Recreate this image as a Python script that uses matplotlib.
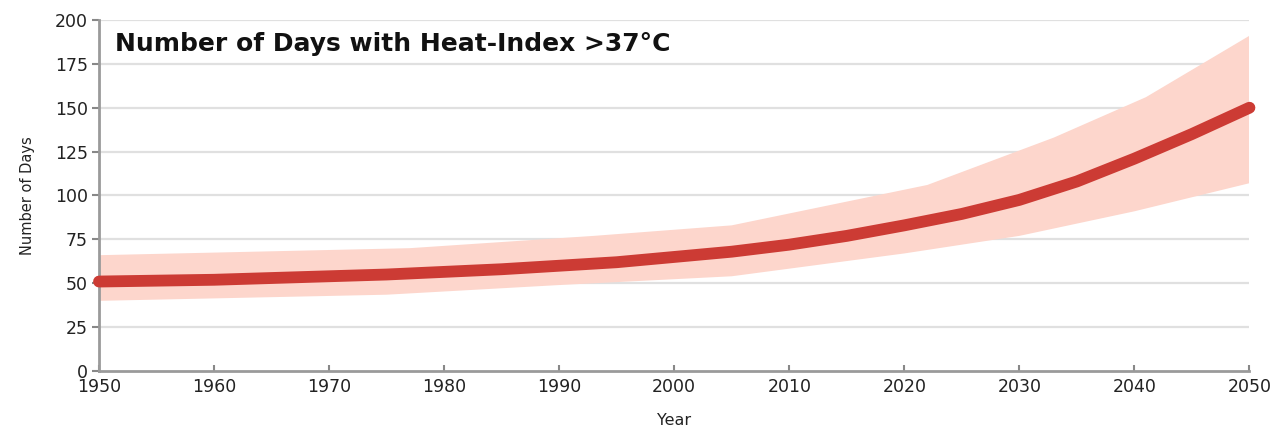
import matplotlib.pyplot as plt
import numpy as np

# central estimate, number of days per year
years = [1950, 1955, 1960, 1965, 1970, 1975, 1980, 1985, 1990, 1995, 2000,
         2005, 2010, 2015, 2020, 2025, 2030, 2035, 2040, 2045, 2050]
days = [51, 51.5, 52, 53, 54, 55, 56.5, 58, 60, 62, 65,
        68, 72, 77, 83, 89.5, 97.5, 108, 121, 135, 150]

# uncertainty range (upper and lower edges)
upper_years = [1950, 1977, 1993, 2005, 2022, 2033, 2041, 2050]
upper_days = [66, 70, 77, 83, 106, 133, 156, 191]
lower_years = [1950, 1975, 1990, 2005, 2020, 2030, 2040, 2050]
lower_days = [40, 43.5, 49, 54, 67, 77, 91, 107]

y_ticks = [0, 25, 50, 75, 100, 125, 150, 175, 200]
x_ticks = list(range(1950, 2051, 10))

fig = plt.figure(figsize=(12.79, 4.33), dpi=100)
ax = fig.add_axes([0.0774, 0.143, 0.8995, 0.811])

# shaded band
band_x = np.concatenate([upper_years, lower_years[::-1]])
band_y = np.concatenate([upper_days, lower_days[::-1]])
ax.fill(band_x, band_y, color='#fdd6cc', lw=0, zorder=2)

ax.plot(years, days, color='#cc3b34', lw=8.5, solid_capstyle='round',
        zorder=5, clip_on=False)

ax.set_xlim(1950, 2050)
ax.set_ylim(0, 200)
ax.set_xticks(x_ticks)
ax.set_yticks(y_ticks)

for v in y_ticks[1:]:
    ax.axhline(v, color='#e0e0e0', lw=1.6, zorder=1)

for s in ['top', 'right']:
    ax.spines[s].set_visible(False)
for s in ['left', 'bottom']:
    ax.spines[s].set_color('#9a9a9a')
    ax.spines[s].set_linewidth(2)
    ax.spines[s].set_zorder(4)

ax.tick_params(axis='y', direction='out', length=5, width=1.5, color='#888888',
               labelsize=12.5, labelcolor='#222222', pad=3)
ax.tick_params(axis='x', direction='in', length=4, width=1.5, color='#888888',
               labelsize=12.5, labelcolor='#222222', pad=5)

ax.text(0.014, 0.965, 'Number of Days with Heat-Index >37°C', transform=ax.transAxes,
        fontsize=18, fontweight='bold', color='#111111', va='top', ha='left')

ax.set_ylabel('Number of Days', fontsize=10.5, color='#222222', labelpad=14)
ax.set_xlabel('Year', fontsize=11.5, color='#222222', labelpad=12)

fig.savefig('out.png', dpi=100)
